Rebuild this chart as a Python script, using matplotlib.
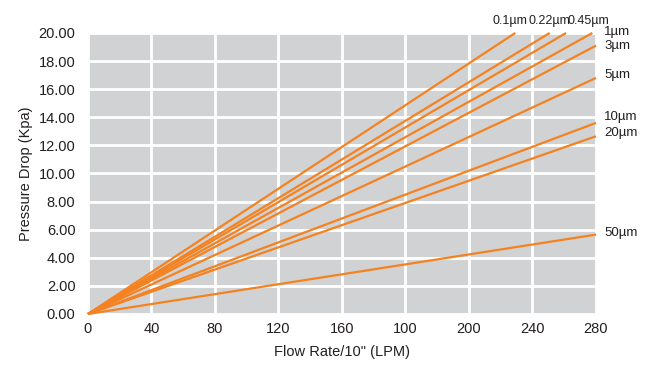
import matplotlib.pyplot as plt
import numpy as np

plt.rcParams['font.family'] = ['Liberation Sans', 'DejaVu Sans']

# filter grades and the end point of each line (flow, pressure drop)
grades = ['0.1µm', '0.22µm', '0.45µm', '1µm', '3µm', '5µm', '10µm', '20µm', '50µm']
end_flow = [235.5, 254.5, 263.5, 278.0, 280.0, 280.0, 280.0, 280.0, 280.0]
end_drop = [20.0, 20.0, 20.0, 20.0, 19.1, 16.8, 13.6, 12.65, 5.65]

x_tick_labels = ['0', '40', '80', '120', '160', '100', '200', '240', '280']
y_ticks = [0, 2, 4, 6, 8, 10, 12, 14, 16, 18, 20]

orange = '#f58220'
text_col = '#231f20'

fig = plt.figure(figsize=(6.68, 3.70), dpi=100)
ax = fig.add_axes([0.1317, 0.1514, 0.7605, 0.7595])
ax.set_facecolor('#d1d2d4')

for f, d in zip(end_flow, end_drop):
    ax.plot([0, f], [0, d], color=orange, lw=1.6, solid_capstyle='butt', zorder=3, clip_on=False)

# labels next to line ends
top_names = grades[:3]
top_x = [510, 549, 588]
for name, px in zip(top_names, top_x):
    ax.annotate(name, xy=(px / 668, 1 - 21 / 370), xycoords='figure fraction',
                ha='center', va='center', fontsize=9, color=text_col)
side_y = [32, 46, 75, 117, 133, 233]
for name, py in zip(grades[3:], side_y):
    ax.annotate(name, xy=(604 / 668, 1 - py / 370), xycoords='figure fraction',
                ha='left', va='center', fontsize=9.5, color=text_col)

xt = np.linspace(0, 280, len(x_tick_labels))
ax.set_xticks(xt)
ax.set_xticklabels(x_tick_labels)
ax.set_yticks(y_ticks)
ax.set_yticklabels([f'{v:.2f}' for v in y_ticks])
ax.set_xlim(0, 280)
ax.set_ylim(0, 20)
ax.grid(True, color='white', lw=2)
ax.set_axisbelow(True)
for s in ax.spines.values():
    s.set_visible(False)
ax.tick_params(axis='x', length=0, labelsize=10.5, colors=text_col, pad=6)
ax.tick_params(axis='y', length=0, labelsize=10.5, colors=text_col, pad=9)
ax.set_xlabel('Flow Rate/10" (LPM)', fontsize=10.5, color=text_col, labelpad=6)
ax.set_ylabel('Pressure Drop (Kpa)', fontsize=10.5, color=text_col, labelpad=4)

fig.savefig('out.png', dpi=100)
